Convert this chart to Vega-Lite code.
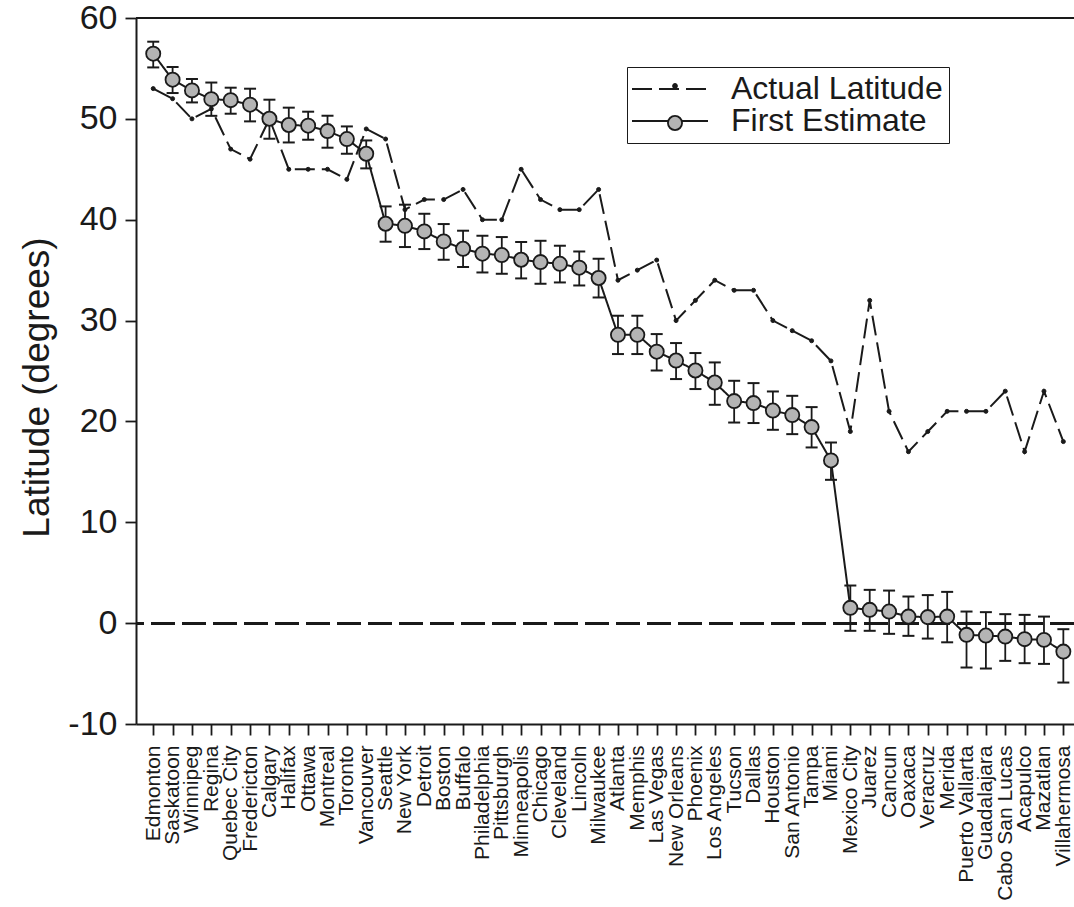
{
  "$schema": "https://vega.github.io/schema/vega-lite/v6.json",
  "width": 938,
  "height": 706,
  "autosize": {"type": "none"},
  "padding": {"left": 136, "top": 18, "right": 0, "bottom": 183},
  "background": "white",
  "config": {
    "view": {"stroke": null},
    "font": "Liberation Sans",
    "axis": {"labelFont": "Liberation Sans", "titleFont": "Liberation Sans", "labelColor": "#1a1a1a", "titleColor": "#1a1a1a", "domainColor": "#1a1a1a", "tickColor": "#1a1a1a", "domainWidth": 2, "tickWidth": 1.8, "grid": false}
  },
  "data": {"values": [
    {"city": "Edmonton", "actual": 53, "est": 56.46, "lo": 55.10, "hi": 57.65},
    {"city": "Saskatoon", "actual": 52, "est": 53.88, "lo": 52.56, "hi": 55.14},
    {"city": "Winnipeg", "actual": 50, "est": 52.82, "lo": 51.63, "hi": 53.95},
    {"city": "Regina", "actual": 51, "est": 51.95, "lo": 50.3, "hi": 53.6},
    {"city": "Quebec City", "actual": 47, "est": 51.85, "lo": 50.51, "hi": 53.09},
    {"city": "Fredericton", "actual": 46, "est": 51.40, "lo": 49.75, "hi": 52.99},
    {"city": "Calgary", "actual": 50, "est": 50.01, "lo": 48.03, "hi": 51.90},
    {"city": "Halifax", "actual": 45, "est": 49.39, "lo": 47.66, "hi": 51.11},
    {"city": "Ottawa", "actual": 45, "est": 49.32, "lo": 47.93, "hi": 50.71},
    {"city": "Montreal", "actual": 45, "est": 48.79, "lo": 47.14, "hi": 50.31},
    {"city": "Toronto", "actual": 44, "est": 48.0, "lo": 46.54, "hi": 49.25},
    {"city": "Vancouver", "actual": 49, "est": 46.54, "lo": 45.09, "hi": 47.86},
    {"city": "Seattle", "actual": 48, "est": 39.60, "lo": 37.82, "hi": 41.32},
    {"city": "New York", "actual": 41, "est": 39.40, "lo": 37.29, "hi": 41.49},
    {"city": "Detroit", "actual": 42, "est": 38.84, "lo": 37.09, "hi": 40.59},
    {"city": "Boston", "actual": 42, "est": 37.85, "lo": 36.03, "hi": 39.57},
    {"city": "Buffalo", "actual": 43, "est": 37.12, "lo": 35.31, "hi": 38.91},
    {"city": "Philadelphia", "actual": 40, "est": 36.63, "lo": 34.77, "hi": 38.41},
    {"city": "Pittsburgh", "actual": 40, "est": 36.50, "lo": 34.64, "hi": 38.28},
    {"city": "Minneapolis", "actual": 45, "est": 36.03, "lo": 34.18, "hi": 37.79},
    {"city": "Chicago", "actual": 42, "est": 35.80, "lo": 33.65, "hi": 37.91},
    {"city": "Cleveland", "actual": 41, "est": 35.63, "lo": 33.78, "hi": 37.42},
    {"city": "Lincoln", "actual": 41, "est": 35.24, "lo": 33.48, "hi": 36.85},
    {"city": "Milwaukee", "actual": 43, "est": 34.22, "lo": 32.29, "hi": 36.13},
    {"city": "Atlanta", "actual": 34, "est": 28.59, "lo": 26.68, "hi": 30.48},
    {"city": "Memphis", "actual": 35, "est": 28.59, "lo": 26.68, "hi": 30.48},
    {"city": "Las Vegas", "actual": 36, "est": 26.91, "lo": 25.05, "hi": 28.66},
    {"city": "New Orleans", "actual": 30, "est": 26.04, "lo": 24.20, "hi": 27.77},
    {"city": "Phoenix", "actual": 32, "est": 25.05, "lo": 23.21, "hi": 26.78},
    {"city": "Los Angeles", "actual": 34, "est": 23.86, "lo": 21.65, "hi": 25.85},
    {"city": "Tucson", "actual": 33, "est": 22.02, "lo": 19.89, "hi": 24.03},
    {"city": "Dallas", "actual": 33, "est": 21.82, "lo": 19.84, "hi": 23.80},
    {"city": "Houston", "actual": 30, "est": 21.08, "lo": 19.17, "hi": 22.97},
    {"city": "San Antonio", "actual": 29, "est": 20.63, "lo": 18.74, "hi": 22.54},
    {"city": "Tampa", "actual": 28, "est": 19.44, "lo": 17.42, "hi": 21.42},
    {"city": "Miami", "actual": 26, "est": 16.13, "lo": 14.21, "hi": 17.91},
    {"city": "Mexico City", "actual": 19, "est": 1.52, "lo": -0.76, "hi": 3.73},
    {"city": "Juarez", "actual": 32, "est": 1.32, "lo": -0.76, "hi": 3.30},
    {"city": "Cancun", "actual": 21, "est": 1.15, "lo": -1.06, "hi": 3.23},
    {"city": "Oaxaca", "actual": 17, "est": 0.65, "lo": -1.26, "hi": 2.64},
    {"city": "Veracruz", "actual": 19, "est": 0.60, "lo": -1.53, "hi": 2.78},
    {"city": "Merida", "actual": 21, "est": 0.65, "lo": -1.90, "hi": 3.10},
    {"city": "Puerto Vallarta", "actual": 21, "est": -1.16, "lo": -4.4, "hi": 1.15},
    {"city": "Guadalajara", "actual": 21, "est": -1.23, "lo": -4.5, "hi": 1.09},
    {"city": "Cabo San Lucas", "actual": 23, "est": -1.33, "lo": -3.74, "hi": 0.89},
    {"city": "Acapulco", "actual": 17, "est": -1.59, "lo": -3.97, "hi": 0.82},
    {"city": "Mazatlan", "actual": 23, "est": -1.66, "lo": -4.04, "hi": 0.65},
    {"city": "Villahermosa", "actual": 18, "est": -2.82, "lo": -5.89, "hi": -0.60}
  ]},
  "layer": [
    {
      "mark": {"type": "rule", "color": "#1a1a1a", "strokeWidth": 2},
      "encoding": {"y": {"datum": 60, "type": "quantitative"}}
    },
    {
      "mark": {"type": "rule", "color": "#1a1a1a", "strokeWidth": 2, "strokeDash": [24, 7]},
      "encoding": {"y": {"datum": 0, "type": "quantitative"}}
    },
    {
      "mark": {"type": "line", "color": "#1a1a1a", "strokeWidth": 2},
      "encoding": {
        "x": {"field": "city", "type": "nominal", "sort": null, "scale": {"type": "point", "padding": 0.72, "align": 0.618},
          "axis": {"title": null, "labelAngle": -90, "labelFontSize": 21, "tickSize": 11, "labelPadding": 10, "labelOverlap": false, "labelLimit": 0}},
        "y": {"field": "actual", "type": "quantitative",
          "scale": {"domain": [-10, 60], "nice": false, "zero": false},
          "axis": {"values": [-10, 0, 10, 20, 30, 40, 50, 60], "labelExpr": "'' + datum.value", "title": "Latitude (degrees)", "titleFontSize": 37, "titleFontWeight": "normal", "titleX": -80, "titleY": 369, "labelFontSize": 34, "labelPadding": 8, "tickSize": 11}},
        "strokeDash": {"datum": "Actual Latitude", "type": "nominal",
          "scale": {"domain": ["Actual Latitude", "First Estimate"], "range": [[20, 7], [1, 0]]},
          "legend": {
            "orient": "none", "legendX": 491, "legendY": 49, "title": null,
            "labelFont": "Liberation Sans", "labelFontSize": 32, "labelColor": "#1a1a1a", "labelLimit": 0,
            "symbolType": "M-1.7,0H5.9", "symbolSize": 400, "symbolStrokeWidth": 2, "symbolStrokeColor": "#1a1a1a",
            "labelOffset": 66, "padding": 6, "rowPadding": 0,
            "strokeColor": "#1a1a1a",
            "encode": {"legend": {"strokeWidth": {"value": 2}}}
          }}
      }
    },
    {
      "mark": {"type": "point", "filled": true, "opacity": 1, "strokeWidth": 1},
      "encoding": {
        "x": {"field": "city", "type": "nominal", "sort": null},
        "y": {"field": "actual", "type": "quantitative"},
        "size": {"datum": "actual", "type": "ordinal", "scale": {"domain": ["actual", "estimate"], "range": [16, 200]},
          "legend": {"orient": "none", "legendX": 491, "legendY": 56, "title": null, "labelExpr": "''", "labelFontSize": 1, "padding": 9, "rowPadding": 20, "symbolOffset": 31, "symbolStrokeWidth": 1.8, "symbolOpacity": 1}},
        "fill": {"datum": "actual", "type": "nominal", "scale": {"domain": ["actual", "estimate"], "range": ["#1a1a1a", "#b4b4b4"]},
          "legend": {"orient": "none", "legendX": 491, "legendY": 56, "title": null, "labelExpr": "''", "labelFontSize": 1, "padding": 9, "rowPadding": 20, "symbolOffset": 31, "symbolStrokeWidth": 1.8, "symbolOpacity": 1}},
        "stroke": {"datum": "actual", "type": "nominal", "scale": {"domain": ["actual", "estimate"], "range": ["#1a1a1a", "#1a1a1a"]},
          "legend": {"orient": "none", "legendX": 491, "legendY": 56, "title": null, "labelExpr": "''", "labelFontSize": 1, "padding": 9, "rowPadding": 20, "symbolOffset": 31, "symbolStrokeWidth": 1.8, "symbolOpacity": 1}}
      }
    },
    {
      "mark": {"type": "rule", "color": "#1a1a1a", "strokeWidth": 1.8},
      "encoding": {
        "x": {"field": "city", "type": "nominal", "sort": null},
        "y": {"field": "lo", "type": "quantitative"},
        "y2": {"field": "hi"}
      }
    },
    {
      "mark": {"type": "tick", "color": "#1a1a1a", "size": 12, "thickness": 2, "opacity": 1},
      "encoding": {
        "x": {"field": "city", "type": "nominal", "sort": null},
        "y": {"field": "lo", "type": "quantitative"}
      }
    },
    {
      "mark": {"type": "tick", "color": "#1a1a1a", "size": 12, "thickness": 2, "opacity": 1},
      "encoding": {
        "x": {"field": "city", "type": "nominal", "sort": null},
        "y": {"field": "hi", "type": "quantitative"}
      }
    },
    {
      "mark": {"type": "line", "color": "#1a1a1a", "strokeWidth": 2},
      "encoding": {
        "x": {"field": "city", "type": "nominal", "sort": null},
        "y": {"field": "est", "type": "quantitative"},
        "strokeDash": {"datum": "First Estimate", "type": "nominal"}
      }
    },
    {
      "mark": {"type": "point", "filled": true, "strokeWidth": 1.8, "opacity": 1},
      "encoding": {
        "x": {"field": "city", "type": "nominal", "sort": null},
        "y": {"field": "est", "type": "quantitative"},
        "size": {"datum": "estimate", "type": "ordinal"},
        "fill": {"datum": "estimate", "type": "nominal"},
        "stroke": {"datum": "estimate", "type": "nominal"}
      }
    }
  ]
}
